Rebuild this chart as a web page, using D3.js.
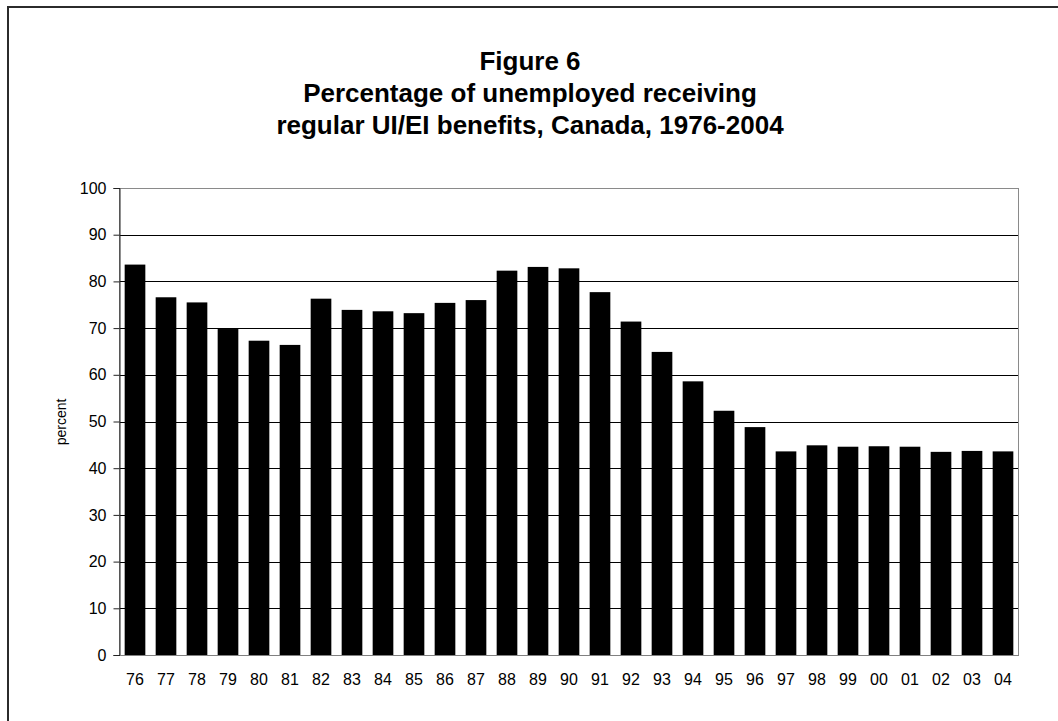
<!DOCTYPE html>
<html>
<head>
<meta charset="utf-8">
<script src="https://cdn.jsdelivr.net/npm/d3@7"></script>
<style>
  html, body { margin: 0; padding: 0; background: #fff; }
  svg { display: block; }
  text { font-family: "Liberation Sans", Arial, sans-serif; fill: #000; }
</style>
</head>
<body>
<svg id="chart" width="1058" height="721"></svg>
<script>
// Share of unemployed receiving regular UI/EI benefits, by year (two-digit labels)
const years = ["76","77","78","79","80","81","82","83","84","85","86","87","88","89","90",
               "91","92","93","94","95","96","97","98","99","00","01","02","03","04"];
const percentReceiving = [83.6, 76.6, 75.5, 69.8, 67.3, 66.4, 76.3, 73.9, 73.6, 73.2, 75.4,
                          76.0, 82.3, 83.1, 82.8, 77.7, 71.4, 64.9, 58.6, 52.3, 48.8, 43.6,
                          44.9, 44.6, 44.7, 44.6, 43.5, 43.7, 43.6];
const yTicks = [0, 10, 20, 30, 40, 50, 60, 70, 80, 90, 100];
const titleLines = ["Figure 6",
                    "Percentage of unemployed receiving",
                    "regular UI/EI benefits, Canada, 1976-2004"];

const data = years.map((y, i) => ({ year: y, value: percentReceiving[i] }));

const svg = d3.select("#chart");
const plot = { left: 119.5, right: 1018.5, top: 188, bottom: 655 };

// outer chart frame (only its top and left edges fall inside the page)
svg.append("rect")
  .attr("x", 8).attr("y", 7)
  .attr("width", 1200).attr("height", 900)
  .attr("fill", "none").attr("stroke", "#2b2b2b").attr("stroke-width", 2);

// title
const title = svg.append("text")
  .attr("text-anchor", "middle")
  .style("font-size", "26px").style("font-weight", "bold");
titleLines.forEach((t, i) => {
  title.append("tspan").attr("x", 530).attr("y", 70 + i * 32).text(t);
});

const x = d3.scaleBand()
  .domain(years)
  .range([plot.left, plot.right])
  .paddingInner(1 / 3)
  .paddingOuter(1 / 6);

const y = d3.scaleLinear()
  .domain([0, 100])
  .range([plot.bottom, plot.top]);

// horizontal gridlines
svg.append("g")
  .selectAll("line")
  .data(yTicks.filter(v => v > 0 && v < 100))
  .join("line")
  .attr("x1", plot.left).attr("x2", plot.right)
  .attr("y1", d => Math.round(y(d)) + 0.5).attr("y2", d => Math.round(y(d)) + 0.5)
  .attr("stroke", "#000").attr("stroke-width", 1);

// plot area border
svg.append("rect")
  .attr("x", plot.left).attr("y", plot.top + 0.5)
  .attr("width", plot.right - plot.left).attr("height", plot.bottom - plot.top)
  .attr("fill", "none").attr("stroke", "#8a8a8a").attr("stroke-width", 1);

// bars
svg.append("g")
  .selectAll("rect")
  .data(data)
  .join("rect")
  .attr("x", d => x(d.year))
  .attr("width", x.bandwidth())
  .attr("y", d => y(d.value))
  .attr("height", d => y(0) - y(d.value))
  .attr("fill", "#000");

// y axis
const yAxis = svg.append("g")
  .attr("transform", `translate(${plot.left},0)`)
  .call(d3.axisLeft(y).tickValues(yTicks).tickSize(6).tickPadding(7).tickFormat(d3.format("d")));
yAxis.select(".domain").attr("stroke", "#222");
yAxis.selectAll(".tick line").attr("stroke", "#222");
yAxis.selectAll("text").style("font-size", "16px").attr("fill", "#000");

// x axis
const xAxis = svg.append("g")
  .attr("transform", `translate(0,${plot.bottom})`)
  .call(d3.axisBottom(x).tickSize(0).tickPadding(19));
xAxis.select(".domain").attr("stroke", "#808080");
xAxis.selectAll("text").style("font-size", "16px").attr("fill", "#000");

// y axis title
svg.append("text")
  .attr("transform", "translate(66,422) rotate(-90)")
  .attr("text-anchor", "middle")
  .style("font-size", "14px")
  .text("percent");
</script>
</body>
</html>
